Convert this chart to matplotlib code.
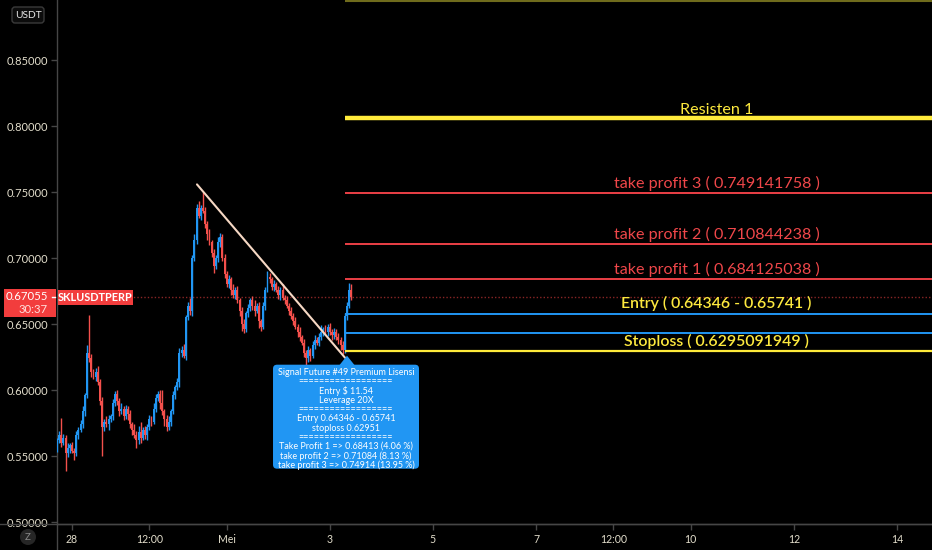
import numpy as np
import matplotlib
matplotlib.use('Agg')
import matplotlib.pyplot as plt
import matplotlib.transforms as mtrans
from matplotlib.patches import FancyBboxPatch, Rectangle, Polygon, Circle
from matplotlib.lines import Line2D

plt.rcParams['font.family'] = ['Lato', 'DejaVu Sans']

# ---------------- data ----------------
# hourly candles, first candle at 17:00 on 27 Apr (hour -7 relative to 28 Apr 00:00)
start_hour = -7
first_open = 0.556
closes = [
    0.562, 0.566, 0.560, 0.564, 0.552, 0.556, 0.558, 0.554, 0.552, 0.566,
    0.570, 0.574, 0.584, 0.596, 0.628, 0.624, 0.614, 0.610, 0.614, 0.606,
    0.592, 0.572, 0.576, 0.574, 0.578, 0.580, 0.590, 0.597, 0.592, 0.584,
    0.586, 0.580, 0.586, 0.582, 0.574, 0.570, 0.566, 0.562, 0.568, 0.564,
    0.570, 0.566, 0.572, 0.578, 0.576, 0.586, 0.594, 0.597, 0.590, 0.584,
    0.578, 0.572, 0.576, 0.584, 0.596, 0.602, 0.606, 0.628, 0.630, 0.626,
    0.655, 0.664, 0.660, 0.700, 0.714, 0.738, 0.732, 0.738, 0.736, 0.726,
    0.718, 0.712, 0.704, 0.694, 0.700, 0.712, 0.716, 0.700, 0.688, 0.680,
    0.684, 0.676, 0.672, 0.676, 0.668, 0.660, 0.650, 0.646, 0.658, 0.662,
    0.668, 0.664, 0.660, 0.664, 0.652, 0.648, 0.664, 0.676, 0.686, 0.684,
    0.678, 0.680, 0.676, 0.672, 0.676, 0.670, 0.668, 0.664, 0.660, 0.656,
    0.652, 0.648, 0.644, 0.640, 0.636, 0.628, 0.624, 0.630, 0.626, 0.634,
    0.638, 0.636, 0.640, 0.644, 0.646, 0.644, 0.648, 0.644, 0.642, 0.644,
    0.640, 0.638, 0.634, 0.630, 0.656, 0.664, 0.676, 0.67055]
upper_wick = [  # in 0.001 units
    2, 3, 13, 3, 2, 4, 2, 3, 2, 3,
    2, 3, 4, 2, 6, 29, 3, 2, 3, 4,
    2, 3, 2, 4, 3, 2, 3, 2, 3, 2,
    4, 2, 3, 2, 3, 2, 4, 3, 5, 8,
    2, 3, 2, 3, 2, 4, 3, 2, 3, 10,
    2, 3, 4, 2, 3, 2, 3, 4, 3, 5,
    2, 3, 6, 2, 4, 3, 5, 2, 12, 3,
    2, 4, 2, 3, 2, 4, 3, 2, 3, 2,
    3, 2, 4, 2, 3, 2, 3, 4, 2, 3,
    2, 3, 4, 2, 3, 2, 3, 2, 4, 3,
    2, 3, 2, 3, 2, 4, 2, 3, 2, 3,
    2, 3, 2, 4, 2, 3, 2, 3, 2, 3,
    4, 2, 3, 5, 2, 3, 2, 3, 2, 3,
    2, 3, 2, 3, 2, 3, 5, 4]
lower_wick = [  # in 0.001 units
    3, 2, 3, 2, 13, 3, 4, 2, 5, 2,
    3, 2, 3, 4, 2, 3, 4, 2, 3, 2,
    3, 22, 3, 2, 4, 2, 3, 2, 3, 4,
    2, 3, 2, 5, 3, 4, 2, 6, 3, 4,
    2, 3, 4, 2, 3, 2, 3, 2, 4, 3,
    5, 3, 2, 3, 2, 3, 2, 4, 3, 2,
    3, 2, 3, 4, 2, 3, 2, 3, 2, 3,
    4, 2, 3, 5, 2, 3, 4, 2, 3, 2,
    3, 4, 2, 3, 2, 4, 5, 3, 2, 3,
    2, 3, 4, 2, 5, 3, 2, 3, 2, 3,
    2, 3, 2, 3, 4, 2, 3, 2, 3, 2,
    3, 2, 4, 3, 2, 3, 6, 3, 4, 2,
    3, 2, 3, 2, 3, 2, 3, 2, 4, 3,
    2, 3, 4, 3, 2, 3, 2, 2]

ytick_vals = [0.50, 0.55, 0.60, 0.65, 0.70, 0.75, 0.80, 0.85]
ytick_labels = ['0.50000', '0.55000', '0.60000', '0.65000', '0.70000',
                '0.75000', '0.80000', '0.85000']
xtick_days = [0, 1.5, 3, 5, 7, 9, 10.5, 12, 14, 16]
xtick_labels = ['28', '12:00', 'Mei', '3', '5', '7', '12:00', '10', '12', '14']

last_price = 0.67055
signal_day = 5.295
trend_start = (2.424, 0.7558)
trend_end = (5.295, 0.6245)
resisten2 = 0.8950
resisten1 = 0.8060
tp_levels = [0.684125038, 0.710844238, 0.749141758]
tp_labels = ['take profit 1 ( 0.684125038 )', 'take profit 2 ( 0.710844238 )',
             'take profit 3 ( 0.749141758 )']
entry_levels = [0.64346, 0.65741]
stoploss = 0.6295091949

signal_text = ("Signal Future #49 Premium Lisensi\n"
               "==================\n"
               "Entry $ 11.54\n"
               "Leverage 20X\n"
               "==================\n"
               "Entry 0.64346 - 0.65741\n"
               "stoploss 0.62951\n"
               "==================\n"
               "Take Profit 1 => 0.68413 (4.06 %)\n"
               "take profit 2 => 0.71084 (8.13 %)\n"
               "take profit 3 => 0.74914 (13.95 %)")

# ---------------- colours ----------------
BG = '#000000'
UP = '#2196f3'
DOWN = '#f4504c'
RED_LINE = '#ec4046'
RED_TXT = '#f0474a'
YEL = '#ffeb3b'
YEL_TXT = '#fde93e'
AXIS_TXT = '#e2ddcb'
GRID_LINE = '#464646'

W, H = 932, 550
fig = plt.figure(figsize=(W / 100, H / 100), dpi=100, facecolor=BG)
ax = fig.add_axes([57 / W, 26 / H, 875 / W, 524 / H], facecolor=BG)
ax.set_xlim(-0.291, 16.68)
ax.set_ylim(0.4985, 0.8955)

# ---------------- candles ----------------
n = len(closes)
t = (start_hour + np.arange(n)) / 24.0
c = np.array(closes)
o = np.concatenate([[first_open], c[:-1]])
hi = np.maximum(o, c) + np.array(upper_wick) / 1000.0
lo = np.minimum(o, c) - np.array(lower_wick) / 1000.0
up = c >= o
cols = np.where(up, UP, DOWN)
ax.vlines(t, lo, hi, colors=cols, lw=1.0, zorder=3)
body_b = np.minimum(o, c)
body_h = np.maximum(np.abs(c - o), 0.001)
ax.bar(t, body_h, bottom=body_b, width=0.9 / 24, color=cols, lw=0, zorder=4)

# last price dotted line
ax.axhline(last_price, color='#8a2626', lw=1.0, ls=(0, (1, 1.5)), zorder=2)

# ---------------- drawn levels ----------------
x_end = ax.get_xlim()[1]
ax.hlines(resisten2, signal_day, x_end, color='#6f6b1c', lw=1.5, zorder=5)
ax.hlines(resisten1, signal_day, x_end, color=YEL, lw=3.2, zorder=5)
for lv in tp_levels:
    ax.hlines(lv, signal_day, x_end, color=RED_LINE, lw=1.4, zorder=5)
for lv in entry_levels:
    ax.hlines(lv, signal_day, x_end, color=UP, lw=1.4, zorder=5)
ax.hlines(stoploss, signal_day, x_end, color=YEL, lw=1.6, zorder=5)

lab_x = 12.5


def level_label(y, s, col, weight='normal', dy=3.0, size=11.6):
    ax.annotate(s, xy=(lab_x, y), xytext=(0, dy), textcoords='offset points',
                ha='center', va='baseline', color=col, fontsize=size,
                fontweight=weight, zorder=6)


level_label(resisten1, 'Resisten 1', YEL_TXT, dy=3.2)
for lv, s in zip(tp_levels, tp_labels):
    level_label(lv, s, RED_TXT, dy=3.4)
level_label(entry_levels[1], 'Entry ( 0.64346 - 0.65741 )', YEL_TXT,
            weight='semibold', dy=4.2, size=11.4)
level_label(stoploss, 'Stoploss ( 0.6295091949 )', YEL_TXT,
            weight='semibold', dy=4.0, size=11.4)

# trend line
ax.plot([trend_start[0], trend_end[0]], [trend_start[1], trend_end[1]],
        color='#f6d8c4', lw=1.5, zorder=6, solid_capstyle='round')

# ---------------- signal callout ----------------
anchor = mtrans.ScaledTranslation(trend_end[0], trend_end[1], ax.transData)
tr_px = mtrans.Affine2D() + anchor
box = FancyBboxPatch((-72, -111), 146, 104,
                     boxstyle='round,pad=0,rounding_size=4',
                     fc='#2196f3', ec='none', transform=tr_px, zorder=8,
                     clip_on=False)
ax.add_patch(box)
ax.add_patch(Polygon([(2, 2), (-6, -8), (10, -8)], closed=True,
                     fc='#2196f3', ec='none', transform=tr_px, zorder=8,
                     clip_on=False))
ax.text(1, -10, signal_text, transform=tr_px, ha='center', va='top',
        color='white', fontsize=6.5, linespacing=1.02, zorder=9,
        multialignment='center', clip_on=False)

# ---------------- axes styling ----------------
for s in ['top', 'right']:
    ax.spines[s].set_visible(False)
for s in ['left', 'bottom']:
    ax.spines[s].set_color(GRID_LINE)
    ax.spines[s].set_linewidth(1.0)
ax.set_yticks(ytick_vals)
ax.set_yticklabels(ytick_labels)
ax.set_xticks(xtick_days)
ax.set_xticklabels(xtick_labels)
ax.tick_params(axis='y', colors=GRID_LINE, labelcolor=AXIS_TXT, labelsize=8.0,
               length=4, width=1, pad=2.5, direction='out')
ax.tick_params(axis='x', colors=GRID_LINE, labelcolor=AXIS_TXT, labelsize=7.6,
               length=4, width=1, pad=3.5, direction='out')

# separators extending across the whole figure
ident = mtrans.IdentityTransform()
fig.add_artist(Line2D([0, W], [H - 524, H - 524], color=GRID_LINE, lw=1.0,
                      transform=ident))
fig.add_artist(Line2D([56.5, 56.5], [0, 26], color=GRID_LINE, lw=1.0,
                      transform=ident))

# ---------------- price label (left scale) ----------------
lp_anchor = mtrans.ScaledTranslation(
    0, last_price, mtrans.blended_transform_factory(ax.transAxes, ax.transData))
tr_lp = mtrans.Affine2D() + lp_anchor
ax.add_patch(Rectangle((-53, -20), 52, 28, fc='#f23d3d', ec='none',
                       transform=tr_lp, zorder=10, clip_on=False))
ax.add_line(Line2D([-5, -2], [0, 0], color='white', lw=1, transform=tr_lp,
                   zorder=11, clip_on=False))
ax.text(-9, 0, f'{last_price:.5f}', transform=tr_lp, ha='right', va='center',
        color='white', fontsize=8.2, zorder=11, clip_on=False)
ax.text(-9, -13, '30:37', transform=tr_lp, ha='right', va='center',
        color='#ffe0dc', fontsize=8.2, zorder=11, clip_on=False)
ax.add_patch(Rectangle((1, -8), 75, 15, fc='#f23d3d', ec='none',
                       transform=tr_lp, zorder=10, clip_on=False))
ax.text(38.5, -0.5, 'SKLUSDTPERP', transform=tr_lp, ha='center', va='center',
        color='white', fontsize=7.8, fontweight='bold', zorder=11,
        clip_on=False)

# ---------------- corner widgets ----------------
fig.add_artist(FancyBboxPatch((12, H - 23), 32, 16,
                              boxstyle='round,pad=0,rounding_size=3',
                              fc='#0c0c0c', ec='#3a3a3a', lw=1,
                              transform=ident))
fig.text(28 / W, 1 - 15 / H, 'USDT', ha='center', va='center',
         color='#e8e8e8', fontsize=7.4)
fig.add_artist(Circle((28, H - 537), 8, fc='#262626', ec='none',
                      transform=ident))
fig.text(28 / W, 13 / H, 'Z', ha='center', va='center', color='#8a8a8a',
         fontsize=7)

fig.savefig('out.png', dpi=100, facecolor=BG)
